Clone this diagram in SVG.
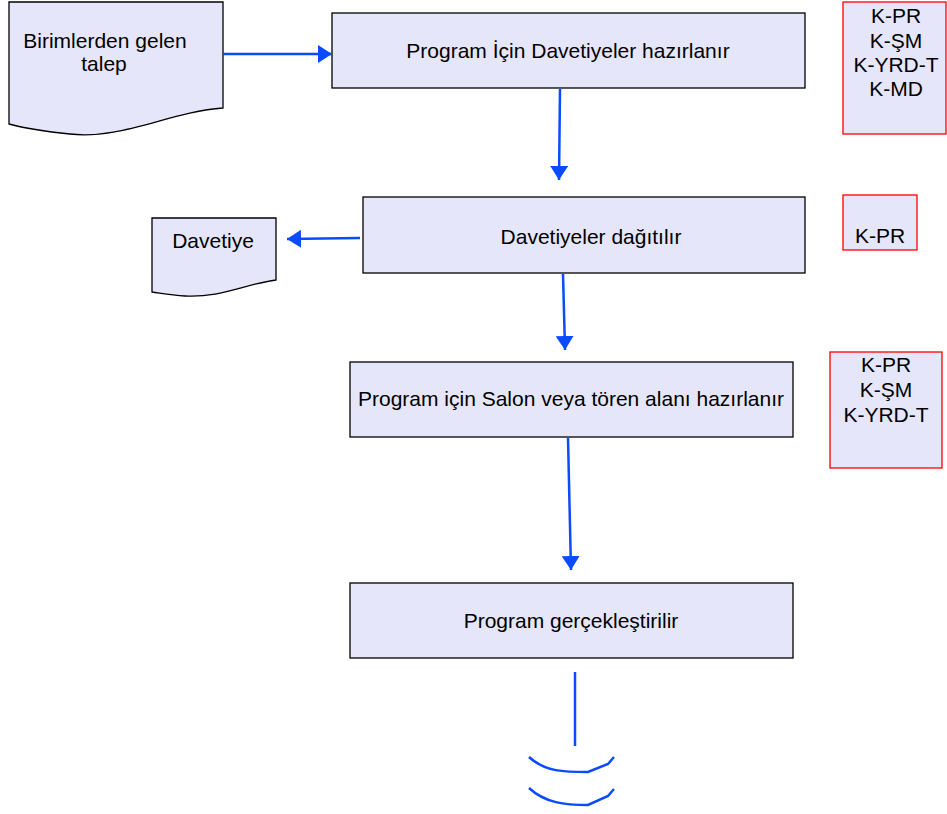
<svg xmlns="http://www.w3.org/2000/svg" width="947" height="814" viewBox="0 0 947 814">
<style>
.box{fill:#e6e6fa;stroke:#000;stroke-width:1.3}
.rbox{fill:#e6e6fa;stroke:#f00;stroke-width:1.3}
.t{font-family:"Liberation Sans",Arial,sans-serif;font-size:21px;fill:#000;text-anchor:middle}
.c{stroke:#0a4bff;stroke-width:2.5;fill:none}
</style>
<defs>
<marker id="ahv" markerWidth="14" markerHeight="18" viewBox="0 0 14 18" refX="14" refY="9" orient="auto" markerUnits="userSpaceOnUse">
<path d="M0,0 L14,9 L0,18 Z" fill="#0a4bff"/>
</marker>
</defs>
<g id="doc1">
<path class="box" d="M9,2 H223 V108 C170,112 120,140 70,134 C40,131 20,127 9,124 Z"/>
<text class="t" x="105" y="48">Birimlerden gelen</text>
<text class="t" x="104" y="71">talep</text>
</g>
<g id="n1">
<rect class="box" x="332" y="13" width="473" height="75"/>
<text class="t" x="568" y="58">Program İçin Davetiyeler hazırlanır</text>
</g>
<g id="r1">
<rect class="rbox" x="843" y="2" width="103" height="132"/>
<text class="t" x="896" y="23">K-PR</text>
<text class="t" x="896" y="48">K-ŞM</text>
<text class="t" x="896" y="72">K-YRD-T</text>
<text class="t" x="896" y="96">K-MD</text>
</g>
<g id="n2">
<rect class="box" x="363" y="197" width="442" height="76"/>
<text class="t" x="591" y="244">Davetiyeler dağıtılır</text>
</g>
<g id="r2">
<rect class="rbox" x="843" y="195" width="74" height="55"/>
<text class="t" x="880" y="243">K-PR</text>
</g>
<g id="doc2">
<path class="box" d="M152,218 H276 V280 C245,284 220,298 185,296 C170,295 160,293 152,292 Z"/>
<text class="t" x="213" y="248">Davetiye</text>
</g>
<g id="n3">
<rect class="box" x="350" y="362" width="443" height="75"/>
<text class="t" x="571" y="406">Program için Salon veya tören alanı hazırlanır</text>
</g>
<g id="r3">
<rect class="rbox" x="830" y="352" width="112" height="116"/>
<text class="t" x="886" y="372">K-PR</text>
<text class="t" x="886" y="397">K-ŞM</text>
<text class="t" x="886" y="422">K-YRD-T</text>
</g>
<g id="n4">
<rect class="box" x="350" y="583" width="443" height="75"/>
<text class="t" x="571" y="628">Program gerçekleştirilir</text>
</g>
<g id="connectors">
<line class="c" x1="223" y1="54" x2="332" y2="54" marker-end="url(#ahv)"/>
<line class="c" x1="560" y1="89" x2="559" y2="180" marker-end="url(#ahv)"/>
<line class="c" x1="360" y1="238" x2="287" y2="239" marker-end="url(#ahv)"/>
<line class="c" x1="563" y1="274" x2="565" y2="350" marker-end="url(#ahv)"/>
<line class="c" x1="568" y1="438" x2="571" y2="570" marker-end="url(#ahv)"/>
<line class="c" x1="575" y1="672" x2="575" y2="746"/>
<path class="c" d="M529,757 C545,772 565,772 588,772 L608,764 L614,757"/>
<path class="c" d="M529,788 C545,803 565,805 588,805 L608,796 L614,789"/>
</g>
</svg>
